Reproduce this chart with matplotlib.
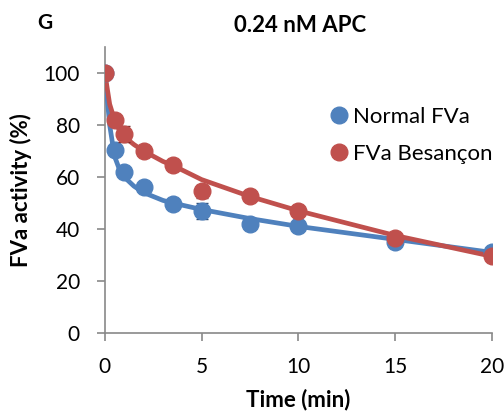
import matplotlib
matplotlib.use("Agg")
import matplotlib.pyplot as plt
from matplotlib.lines import Line2D

plt.rcParams['font.family'] = ['Lato', 'DejaVu Sans']

time = [0, 0.5, 1, 2, 3.5, 5, 7.5, 10, 15, 20]
normal_vals = [100, 70.5, 62, 56, 49.5, 47, 42, 41, 35, 31]
normal_err = [0, 1, 1, 1, 2, 3, 2, 1.5, 2, 1]
bes_vals = [100, 82, 76.5, 70, 64.5, 54.5, 52.5, 47, 36.5, 29.5]
bes_err = [0, 1, 3, 1, 1, 2.5, 1, 1, 1, 1]

fit_time = [0, 0.25, 0.5, 0.75, 1, 1.5, 2, 3, 3.5, 5, 7.5, 10, 15, 20]
normal_fit = [100, 80, 68, 63, 60, 56.5, 54, 51, 50, 47.5, 44, 41, 36, 31]
bes_fit = [100, 88, 82, 78, 75.5, 72.5, 70, 66, 64.5, 59, 52.5, 47, 37.5, 29.5]

yticks = [0, 20, 40, 60, 80, 100]
xticks = [0, 5, 10, 15, 20]

blue = '#4F81BD'
red = '#C0504D'
axis_gray = '#898989'

fig = plt.figure(figsize=(5.04, 4.17), dpi=100)
ax = fig.add_axes([0.208, 0.2014, 0.768, 0.686])

ax.plot(fit_time, normal_fit, color=blue, lw=3.4, zorder=3, solid_capstyle='round')
ax.plot(fit_time, bes_fit, color=red, lw=3.4, zorder=3, solid_capstyle='round')
ax.errorbar(time, normal_vals, yerr=normal_err, fmt='o', color=blue, ms=12,
            ecolor='#2f4f7a', elinewidth=1, capsize=4, zorder=4)
ax.errorbar(time, bes_vals, yerr=bes_err, fmt='o', color=red, ms=12,
            ecolor='#7a2f2d', elinewidth=1, capsize=4, zorder=5)

ax.set_xlim(0, 20)
ax.set_ylim(0, 110)
ax.set_xticks(xticks)
ax.set_yticks(yticks)
ax.tick_params(labelsize=15, color=axis_gray, length=6, width=1.2, direction='out')
ax.tick_params(axis='y', pad=12)
ax.tick_params(axis='x', pad=11)
for s in ['top', 'right']:
    ax.spines[s].set_visible(False)
for s in ['left', 'bottom']:
    ax.spines[s].set_color(axis_gray)
    ax.spines[s].set_linewidth(1.2)

ax.set_xlabel('Time (min)', fontsize=16, fontweight='bold', labelpad=9)
ax.set_ylabel('FVa activity (%)', fontsize=16, fontweight='bold', labelpad=8)

handles = [Line2D([], [], marker='o', ls='none', color=blue, ms=12),
           Line2D([], [], marker='o', ls='none', color=red, ms=12)]
ax.legend(handles, ['Normal FVa', 'FVa Besançon'], loc='upper left',
          bbox_to_anchor=(0.52, 0.86), frameon=False, fontsize=16,
          handletextpad=0.0, labelspacing=0.75, handlelength=1.2)

fig.text(0.595, 0.94, '0.24 nM APC', ha='center', va='center', fontsize=16, fontweight='bold')
fig.text(0.089, 0.945, 'G', ha='center', va='center', fontsize=15, fontweight='bold')

fig.savefig('out.png', dpi=100)
